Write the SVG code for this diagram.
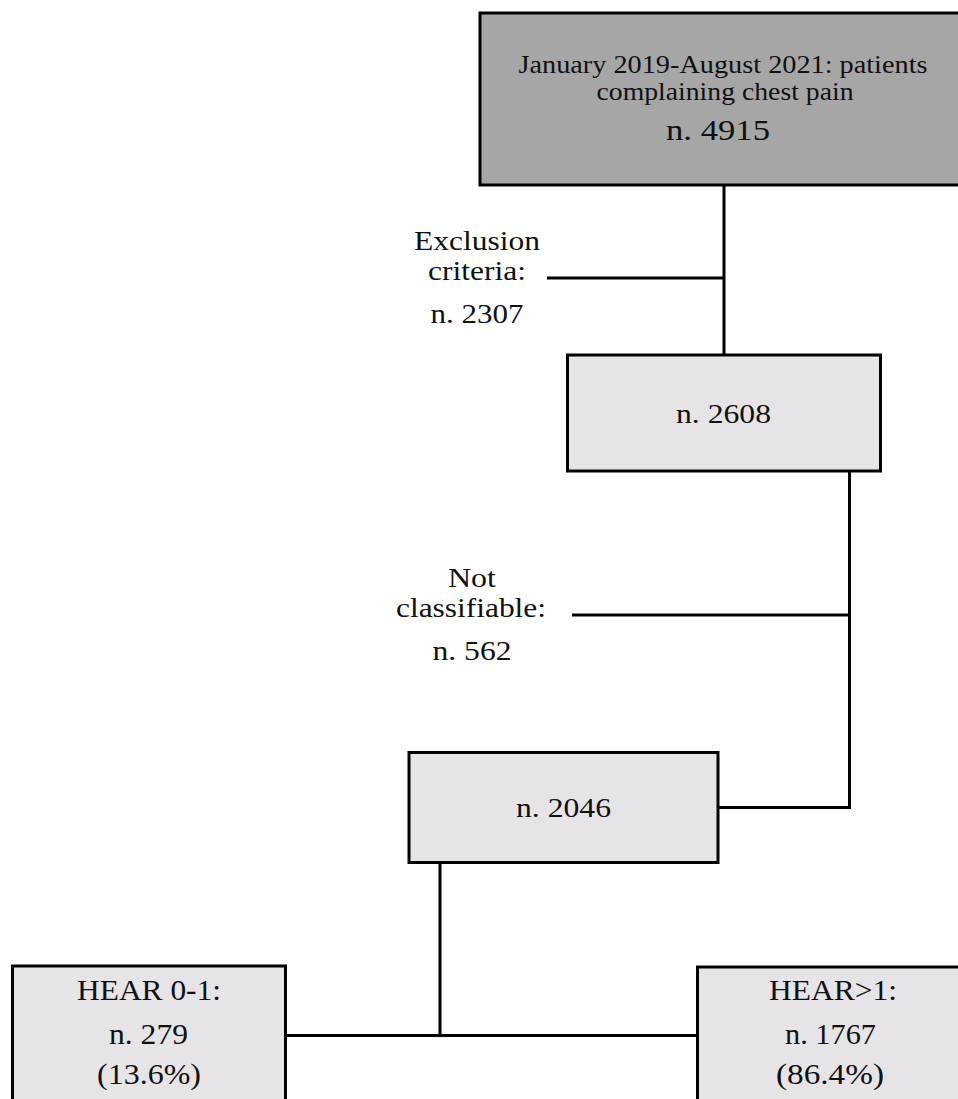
<svg xmlns="http://www.w3.org/2000/svg" width="958" height="1099" viewBox="0 0 958 1099">
<style>
.box{stroke:#000;stroke-width:3}
.dark{fill:#a6a6a6}
.light{fill:#e6e4e6}
.t{font-family:"Liberation Serif","Times New Roman",serif;fill:#111;text-anchor:middle}
.c{stroke:#000;stroke-width:3;fill:none}
</style>
<rect width="958" height="1099" fill="#fff"/>
<g id="connectors">
<path class="c" d="M724 185 V354"/>
<path class="c" d="M547 278 H724"/>
<path class="c" d="M849.5 472 V807.5 H718"/>
<path class="c" d="M572 615 H849.5"/>
<path class="c" d="M440 863 V1035.5"/>
<path class="c" d="M286 1035.5 H697"/>
</g>
<g id="n4915">
<rect class="box dark" x="480" y="13" width="490" height="172"/>
<text class="t" x="723" y="72.5" font-size="26" textLength="409" lengthAdjust="spacingAndGlyphs">January 2019-August 2021: patients</text>
<text class="t" x="725" y="99.5" font-size="26" textLength="257" lengthAdjust="spacingAndGlyphs">complaining chest pain</text>
<text class="t" x="718" y="140" font-size="29" textLength="104" lengthAdjust="spacingAndGlyphs">n. 4915</text>
</g>
<g id="exclusion">
<text class="t" x="477" y="250" font-size="28" textLength="126" lengthAdjust="spacingAndGlyphs">Exclusion</text>
<text class="t" x="477" y="280" font-size="28" textLength="98" lengthAdjust="spacingAndGlyphs">criteria:</text>
<text class="t" x="477" y="323" font-size="27" textLength="93" lengthAdjust="spacingAndGlyphs">n. 2307</text>
</g>
<g id="n2608">
<rect class="box light" x="567.5" y="355" width="313" height="116"/>
<text class="t" x="723.5" y="423" font-size="27" textLength="95" lengthAdjust="spacingAndGlyphs">n. 2608</text>
</g>
<g id="notclassifiable">
<text class="t" x="472" y="587" font-size="28" textLength="48" lengthAdjust="spacingAndGlyphs">Not</text>
<text class="t" x="471" y="617" font-size="28" textLength="150" lengthAdjust="spacingAndGlyphs">classifiable:</text>
<text class="t" x="472" y="660" font-size="28" textLength="79" lengthAdjust="spacingAndGlyphs">n. 562</text>
</g>
<g id="n2046">
<rect class="box light" x="409" y="752.5" width="309" height="110"/>
<text class="t" x="563.5" y="817" font-size="27" textLength="95" lengthAdjust="spacingAndGlyphs">n. 2046</text>
</g>
<g id="hear01">
<rect class="box light" x="12.5" y="966" width="273" height="150"/>
<text class="t" x="149" y="1000" font-size="30" textLength="144" lengthAdjust="spacingAndGlyphs">HEAR 0-1:</text>
<text class="t" x="148.5" y="1044" font-size="30" textLength="79" lengthAdjust="spacingAndGlyphs">n. 279</text>
<text class="t" x="149" y="1084" font-size="30" textLength="104" lengthAdjust="spacingAndGlyphs">(13.6%)</text>
</g>
<g id="hear1">
<rect class="box light" x="697.5" y="967" width="275" height="150"/>
<text class="t" x="833" y="1000" font-size="30" textLength="128" lengthAdjust="spacingAndGlyphs">HEAR&gt;1:</text>
<text class="t" x="830.5" y="1044" font-size="30" textLength="91" lengthAdjust="spacingAndGlyphs">n. 1767</text>
<text class="t" x="830" y="1084" font-size="30" textLength="108" lengthAdjust="spacingAndGlyphs">(86.4%)</text>
</g>
</svg>
